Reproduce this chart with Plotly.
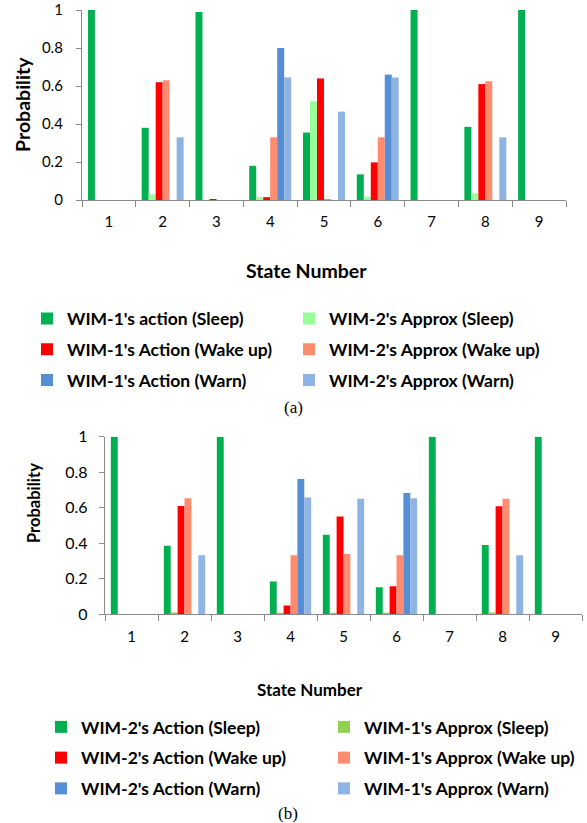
import plotly.graph_objects as go

W, H = 587, 823

states = ["1", "2", "3", "4", "5", "6", "7", "8", "9"]
y_tickvals = [0, 0.2, 0.4, 0.6, 0.8, 1.0]
y_ticktext = ["0", "0.2", "0.4", "0.6", "0.8", "1"]

# ---- chart (a) ----
a_names = ["WIM-1's action (Sleep)", "WIM-2's Approx (Sleep)",
           "WIM-1's Action (Wake up)", "WIM-2's Approx (Wake up)",
           "WIM-1's Action (Warn)", "WIM-2's Approx (Warn)"]
a_w1_sleep = [1.0, 0.38, 0.99, 0.18, 0.355, 0.135, 1.0, 0.385, 1.0]
a_w2_sleep = [0, 0.03, 0, 0.015, 0.52, 0.017, 0, 0.035, 0]
a_w1_wake = [0, 0.62, 0.005, 0.015, 0.64, 0.198, 0, 0.61, 0]
a_w2_wake = [0, 0.63, 0, 0.33, 0.004, 0.33, 0, 0.625, 0]
a_w1_warn = [0, 0, 0, 0.80, 0, 0.66, 0, 0, 0]
a_w2_warn = [0, 0.33, 0, 0.645, 0.465, 0.645, 0, 0.33, 0]
a_colors = ["#00B050", "#99FF99", "#FF0000", "#FF8C6E", "#558ED5", "#8EB4E3"]

# ---- chart (b) ----
b_names = ["WIM-2's Action (Sleep)", "WIM-1's Approx (Sleep)",
           "WIM-2's Action (Wake up)", "WIM-1's Approx (Wake up)",
           "WIM-2's Action (Warn)", "WIM-1's Approx (Warn)"]
b_w2_sleep = [1.0, 0.386, 1.0, 0.184, 0.448, 0.152, 1.0, 0.39, 1.0]
b_w1_sleep = [0, 0.01, 0, 0.005, 0.005, 0.005, 0, 0.01, 0]
b_w2_wake = [0, 0.61, 0, 0.05, 0.55, 0.158, 0, 0.608, 0]
b_w1_wake = [0, 0.653, 0, 0.332, 0.34, 0.332, 0, 0.651, 0]
b_w2_warn = [0, 0, 0, 0.762, 0, 0.683, 0, 0, 0]
b_w1_warn = [0, 0.332, 0, 0.657, 0.651, 0.653, 0, 0.332, 0]
b_colors = ["#00B050", "#92D050", "#FF0000", "#FF8C6E", "#558ED5", "#8EB4E3"]

a_series = [a_w1_sleep, a_w2_sleep, a_w1_wake, a_w2_wake, a_w1_warn, a_w2_warn]
b_series = [b_w2_sleep, b_w1_sleep, b_w2_wake, b_w1_wake, b_w2_warn, b_w1_warn]

FONT = "Lato"
AXIS_GRAY = "#8A8A8A"


def fx(px):
    return px / W


def fy(py):
    return 1 - py / H


fig = go.Figure()

for i, (name, vals, col) in enumerate(zip(a_names, a_series, a_colors)):
    fig.add_trace(go.Bar(
        x=states, y=vals, name=name, marker=dict(color=col, line=dict(width=0)),
        xaxis="x", yaxis="y", legend="legend" if i % 2 == 0 else "legend2",
        legendgroup="a%d" % i,
    ))

for i, (name, vals, col) in enumerate(zip(b_names, b_series, b_colors)):
    fig.add_trace(go.Bar(
        x=states, y=vals, name=name, marker=dict(color=col, line=dict(width=0)),
        xaxis="x2", yaxis="y2", legend="legend3" if i % 2 == 0 else "legend4",
        legendgroup="b%d" % i,
    ))

xcommon = dict(type="category", range=[-0.5, 8.5], showline=True, linecolor=AXIS_GRAY,
               linewidth=1.3, ticks="outside", tickson="boundaries", tickcolor=AXIS_GRAY,
               tickwidth=1.3, ticklen=6, showgrid=False, zeroline=False,
               tickfont=dict(family=FONT, size=15, color="#000000"))
ycommon = dict(range=[0, 1], tickvals=y_tickvals, ticktext=y_ticktext, showline=True,
               linecolor=AXIS_GRAY, linewidth=1.3, ticks="outside", tickcolor=AXIS_GRAY,
               tickwidth=1.3, ticklen=5, showgrid=False, zeroline=False)

leg_font = dict(family=FONT, size=17.5, color="#000000", weight="bold")


def legend_at(x_text_px, y_top_px):
    return dict(x=fx(x_text_px - 40), y=fy(y_top_px), xanchor="left", yanchor="top",
                orientation="v", bgcolor="rgba(0,0,0,0)", tracegroupgap=5,
                font=leg_font, itemwidth=30, itemclick=False, itemdoubleclick=False)


fig.update_layout(
    width=W, height=H, autosize=False,
    margin=dict(l=0, r=0, t=0, b=0, autoexpand=False),
    paper_bgcolor="white", plot_bgcolor="white",
    barmode="group", bargap=0.22, bargroupgap=0,
    xaxis=dict(domain=[fx(82), fx(566)], anchor="y", ticklabelstandoff=8, **xcommon),
    yaxis=dict(domain=[fy(200), fy(10)], anchor="x", ticklabelstandoff=10,
               tickfont=dict(family=FONT, size=15, color="#000000"), **ycommon),
    xaxis2=dict(domain=[fx(105), fx(582)], anchor="y2", ticklabelstandoff=9, **xcommon),
    yaxis2=dict(domain=[fy(614.3), fy(436.7)], anchor="x2", ticklabelstandoff=8,
                tickfont=dict(family=FONT, size=16, color="#000000"), **ycommon),
    legend=legend_at(67, 300.5),
    legend2=legend_at(329, 300.5),
    legend3=legend_at(81, 709),
    legend4=legend_at(364, 709),
    annotations=[
        dict(text="Probability", x=fx(22), y=fy(105), xref="paper", yref="paper",
             textangle=-90, showarrow=False, xanchor="center", yanchor="middle",
             font=dict(family=FONT, size=19.5, color="#000000", weight="bold")),
        dict(text="State Number", x=fx(306), y=fy(270), xref="paper", yref="paper",
             showarrow=False, xanchor="center", yanchor="middle",
             font=dict(family=FONT, size=19.5, color="#000000", weight="bold")),
        dict(text="(a)", x=fx(293), y=fy(407), xref="paper", yref="paper",
             showarrow=False, xanchor="center", yanchor="middle",
             font=dict(family="Liberation Serif", size=17, color="#000000")),
        dict(text="Probability", x=fx(34), y=fy(503), xref="paper", yref="paper",
             textangle=-90, showarrow=False, xanchor="center", yanchor="middle",
             font=dict(family=FONT, size=16.5, color="#000000", weight="bold")),
        dict(text="State Number", x=fx(309.5), y=fy(689), xref="paper", yref="paper",
             showarrow=False, xanchor="center", yanchor="middle",
             font=dict(family=FONT, size=17, color="#000000", weight="bold")),
        dict(text="(b)", x=fx(288), y=fy(813), xref="paper", yref="paper",
             showarrow=False, xanchor="center", yanchor="middle",
             font=dict(family="Liberation Serif", size=17, color="#000000")),
    ],
)

fig.write_html("out.html", config={"displayModeBar": False})
